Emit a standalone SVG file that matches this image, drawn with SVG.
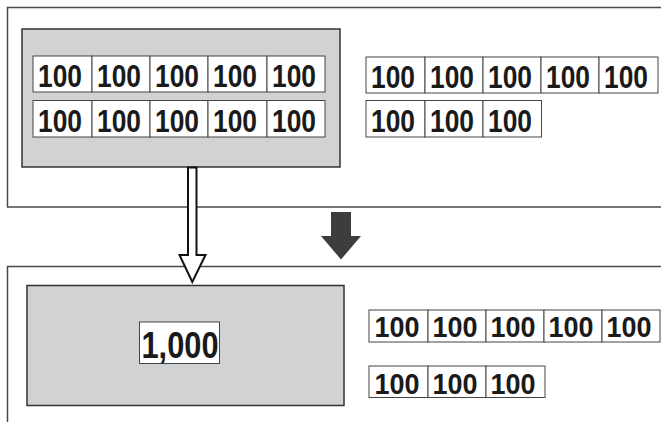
<svg xmlns="http://www.w3.org/2000/svg" width="661" height="422" viewBox="0 0 661 422">
<style>
.frame{fill:none;stroke:#4a4a4a;stroke-width:1.5}
.panel{fill:#d1d2d4;stroke:#333;stroke-width:1.5}
.cell{fill:#fff;stroke:#444;stroke-width:1}
.t{font-family:"Liberation Sans",Arial,sans-serif;font-weight:bold;fill:#1a1a1a;text-anchor:middle}
.big{font-size:32px}
.sm{font-size:29px}
</style>
<rect width="661" height="422" fill="#fff"/>
<g id="frame-top"><path class="frame" d="M665 7.5H7.5V207H665"/></g>
<g id="frame-bottom"><path class="frame" d="M665 266.5H7.5V425"/></g>
<g id="panel-top">
<rect class="panel" x="22" y="29" width="318" height="138"/>
<g id="row1">
<rect class="cell" x="33" y="56" width="59" height="36"/><text class="t big" x="60" y="86.5" textLength="44" lengthAdjust="spacingAndGlyphs">100</text>
<rect class="cell" x="92" y="56" width="58" height="36"/><text class="t big" x="119" y="86.5" textLength="44" lengthAdjust="spacingAndGlyphs">100</text>
<rect class="cell" x="150" y="56" width="58" height="36"/><text class="t big" x="177" y="86.5" textLength="44" lengthAdjust="spacingAndGlyphs">100</text>
<rect class="cell" x="208" y="56" width="59" height="36"/><text class="t big" x="235" y="86.5" textLength="44" lengthAdjust="spacingAndGlyphs">100</text>
<rect class="cell" x="267" y="56" width="58" height="36"/><text class="t big" x="294" y="86.5" textLength="44" lengthAdjust="spacingAndGlyphs">100</text>
</g>
<g id="row2">
<rect class="cell" x="33" y="100.5" width="59" height="36.5"/><text class="t big" x="60" y="131.5" textLength="44" lengthAdjust="spacingAndGlyphs">100</text>
<rect class="cell" x="92" y="100.5" width="58" height="36.5"/><text class="t big" x="119" y="131.5" textLength="44" lengthAdjust="spacingAndGlyphs">100</text>
<rect class="cell" x="150" y="100.5" width="58" height="36.5"/><text class="t big" x="177" y="131.5" textLength="44" lengthAdjust="spacingAndGlyphs">100</text>
<rect class="cell" x="208" y="100.5" width="59" height="36.5"/><text class="t big" x="235" y="131.5" textLength="44" lengthAdjust="spacingAndGlyphs">100</text>
<rect class="cell" x="267" y="100.5" width="58" height="36.5"/><text class="t big" x="294" y="131.5" textLength="44" lengthAdjust="spacingAndGlyphs">100</text>
</g>
</g>
<g id="cells-top-right">
<rect class="cell" x="366" y="57" width="59" height="36"/><text class="t big" x="393" y="87.5" textLength="44" lengthAdjust="spacingAndGlyphs">100</text>
<rect class="cell" x="425" y="57" width="58" height="36"/><text class="t big" x="452" y="87.5" textLength="44" lengthAdjust="spacingAndGlyphs">100</text>
<rect class="cell" x="483" y="57" width="58" height="36"/><text class="t big" x="510" y="87.5" textLength="44" lengthAdjust="spacingAndGlyphs">100</text>
<rect class="cell" x="541" y="57" width="58" height="36"/><text class="t big" x="568" y="87.5" textLength="44" lengthAdjust="spacingAndGlyphs">100</text>
<rect class="cell" x="599" y="57" width="59" height="36"/><text class="t big" x="626" y="87.5" textLength="44" lengthAdjust="spacingAndGlyphs">100</text>
<rect class="cell" x="366" y="100.5" width="59" height="36.5"/><text class="t big" x="393" y="131.5" textLength="44" lengthAdjust="spacingAndGlyphs">100</text>
<rect class="cell" x="425" y="100.5" width="58" height="36.5"/><text class="t big" x="452" y="131.5" textLength="44" lengthAdjust="spacingAndGlyphs">100</text>
<rect class="cell" x="483" y="100.5" width="58.5" height="36.5"/><text class="t big" x="510" y="131.5" textLength="44" lengthAdjust="spacingAndGlyphs">100</text>
</g>
<g id="panel-bottom">
<rect class="panel" x="27" y="285.5" width="317" height="120"/>
<rect class="cell" x="139.5" y="322" width="80" height="41.5"/>
<text class="t" x="180" y="358" font-size="37" textLength="77" lengthAdjust="spacingAndGlyphs">1,000</text>
</g>
<g id="cells-bottom-right">
<rect class="cell" x="369" y="310" width="59" height="32"/><text class="t sm" x="397" y="337" textLength="45" lengthAdjust="spacingAndGlyphs">100</text>
<rect class="cell" x="428" y="310" width="58" height="32"/><text class="t sm" x="455" y="337" textLength="45" lengthAdjust="spacingAndGlyphs">100</text>
<rect class="cell" x="486" y="310" width="58" height="32"/><text class="t sm" x="513" y="337" textLength="45" lengthAdjust="spacingAndGlyphs">100</text>
<rect class="cell" x="544" y="310" width="58" height="32"/><text class="t sm" x="571" y="337" textLength="45" lengthAdjust="spacingAndGlyphs">100</text>
<rect class="cell" x="602" y="310" width="58" height="32"/><text class="t sm" x="629" y="337" textLength="45" lengthAdjust="spacingAndGlyphs">100</text>
<rect class="cell" x="369" y="366" width="59" height="31.5"/><text class="t sm" x="397" y="393.5" textLength="45" lengthAdjust="spacingAndGlyphs">100</text>
<rect class="cell" x="428" y="366" width="58" height="31.5"/><text class="t sm" x="455" y="393.5" textLength="45" lengthAdjust="spacingAndGlyphs">100</text>
<rect class="cell" x="486" y="366" width="59" height="31.5"/><text class="t sm" x="513" y="393.5" textLength="45" lengthAdjust="spacingAndGlyphs">100</text>
</g>
<g id="connectors">
<path d="M188 167.5V255H179.5L192.3 282L205.5 255H196.5V167.5Z" fill="#fff" stroke="#111" stroke-width="2" stroke-linejoin="miter"/>
<path d="M331 212H351V236H361L341 259.5L321 236H331Z" fill="#3d3d3d"/>
</g>
</svg>
